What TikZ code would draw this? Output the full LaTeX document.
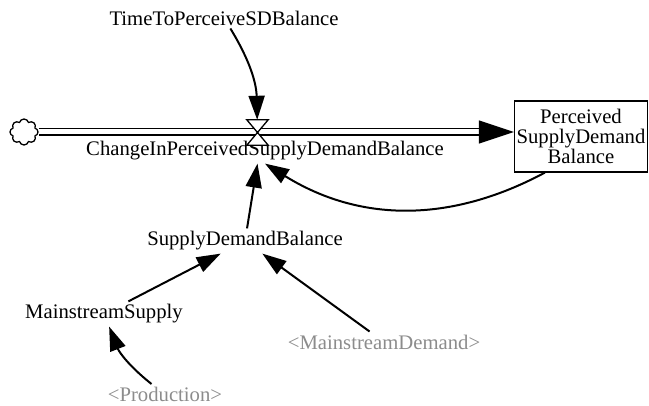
\documentclass[tikz,border=0pt]{standalone}
\usepackage{fontspec}
\setmainfont{Liberation Serif}
\usetikzlibrary{arrows.meta,shapes.symbols}
\tikzstyle{every node}=[font=\fontsize{20.7}{20}\selectfont]
\tikzstyle{var}=[inner sep=3pt]
\tikzstyle{shadow}=[var,
                    text=black!45]
\tikzstyle{stock}=[rectangle,
                   draw,
                   line width=1.2pt,
                   inner sep=2pt,
                   minimum width=133pt,
                   minimum height=71pt,
                   align=center]
\tikzstyle{source}=[cloud,
                    draw,
                    cloud puffs=8,
                    aspect=1.1,
                    line width=1.3pt,
                    minimum width=28pt,
                    minimum height=26pt,
                    inner sep=0pt]
\tikzstyle{pipe}=[double,
                  double distance=5pt,
                  line width=1.4pt]
\tikzstyle{link}=[->,
                  line width=2pt]

\begin{document}
\begin{tikzpicture}[x=1pt,y=-1pt,>={Triangle[length=24pt,width=16pt]}]
\useasboundingbox (0,0) rectangle (649,406);
\node (Cloud)  [source] at (24,132) {};
\node (Box)    [stock] at (581,136.5) {Perceived\\SupplyDemand\\Balance};
\node (Valve)  [minimum width=21pt,minimum height=25pt,inner sep=0pt] at (257.5,132.5) {};
\node (Change) [var] at (265,151) {ChangeInPerceivedSupplyDemandBalance};
\node (Time)   [var] at (224,18) {TimeToPerceiveSDBalance};
\node (SDB)    [var] at (245,241) {SupplyDemandBalance};
\node (MS)     [var] at (104,314) {MainstreamSupply};
\node (MD)     [shadow] at (384,342) {<MainstreamDemand>};
\node (Prod)   [shadow] at (165,394.5) {<Production>};
% flow
\draw[pipe,-{Triangle[length=35pt,width=23pt]}] (Cloud) -- (Cloud -| Box.west);
\draw[line width=1.3pt,fill=white] (Valve.north west) -- (Valve.north east)
  -- (Valve.south west) -- (Valve.south east) -- cycle;
% links
\draw[link] (Time) to[bend left=15] (Valve);
\draw[link] (Box.225) to[bend left=30] (Change.south);
\draw[link] (SDB) -- (Valve |- Change.south);
\draw[link] (MS) -- (SDB);
\draw[link] (MD) -- (SDB);
\draw[link] (Prod) to[bend left=15] (MS);
\end{tikzpicture}
\end{document}
